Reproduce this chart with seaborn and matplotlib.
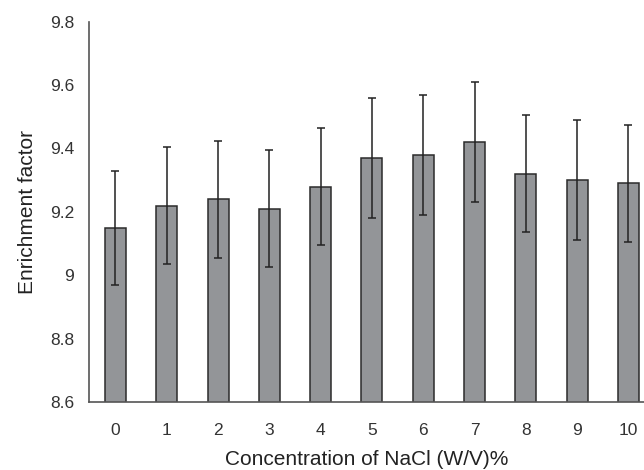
import matplotlib
matplotlib.use("Agg")
import matplotlib.pyplot as plt
import seaborn as sns
import pandas as pd

# NaCl concentration (W/V)% and measured enrichment factor
nacl = ["0", "1", "2", "3", "4", "5", "6", "7", "8", "9", "10"]
enrichment = [9.15, 9.22, 9.24, 9.21, 9.28, 9.37, 9.38, 9.42, 9.32, 9.30, 9.29]
std_err = [0.18, 0.185, 0.185, 0.185, 0.185, 0.19, 0.19, 0.19, 0.185, 0.19, 0.185]
yticks = [8.6, 8.8, 9.0, 9.2, 9.4, 9.6, 9.8]
ytick_labels = ["8.6", "8.8", "9", "9.2", "9.4", "9.6", "9.8"]

df = pd.DataFrame({"nacl": nacl, "ef": enrichment})

sns.set_style("white")
plt.rcParams["font.family"] = ["Liberation Sans", "DejaVu Sans"]

fig = plt.figure(figsize=(6.44, 4.70), dpi=100)
ax = fig.add_axes([0.1387, 0.1447, 0.861, 0.8091])

sns.barplot(data=df, x="nacl", y="ef", order=nacl, color="#939598",
            saturation=1, width=0.41, edgecolor="#2b2b2b", linewidth=1.1,
            errorbar=None, ax=ax)

centers = [p.get_x() + p.get_width() / 2 for p in ax.patches]
ax.errorbar(centers, enrichment, yerr=std_err, fmt="none", ecolor="#222222",
            elinewidth=1.1, capsize=2.6, capthick=1.1)

ax.set_ylim(8.6, 9.8)
ax.set_xlim(-0.51, 10.3)
ax.set_yticks(yticks)
ax.set_yticklabels(ytick_labels)

ax.set_xlabel("Concentration of NaCl (W/V)%", fontsize=15, color="#222222", labelpad=9)
ax.set_ylabel("Enrichment factor", fontsize=15, color="#222222", labelpad=9)
ax.tick_params(axis="both", length=0, labelsize=12.5, labelcolor="#333333")
ax.tick_params(axis="x", pad=15)
ax.tick_params(axis="y", pad=11)

for side in ["top", "right"]:
    ax.spines[side].set_visible(False)
for side in ["left", "bottom"]:
    ax.spines[side].set_color("#555555")
    ax.spines[side].set_linewidth(1.2)

fig.savefig("out.png", dpi=100)
